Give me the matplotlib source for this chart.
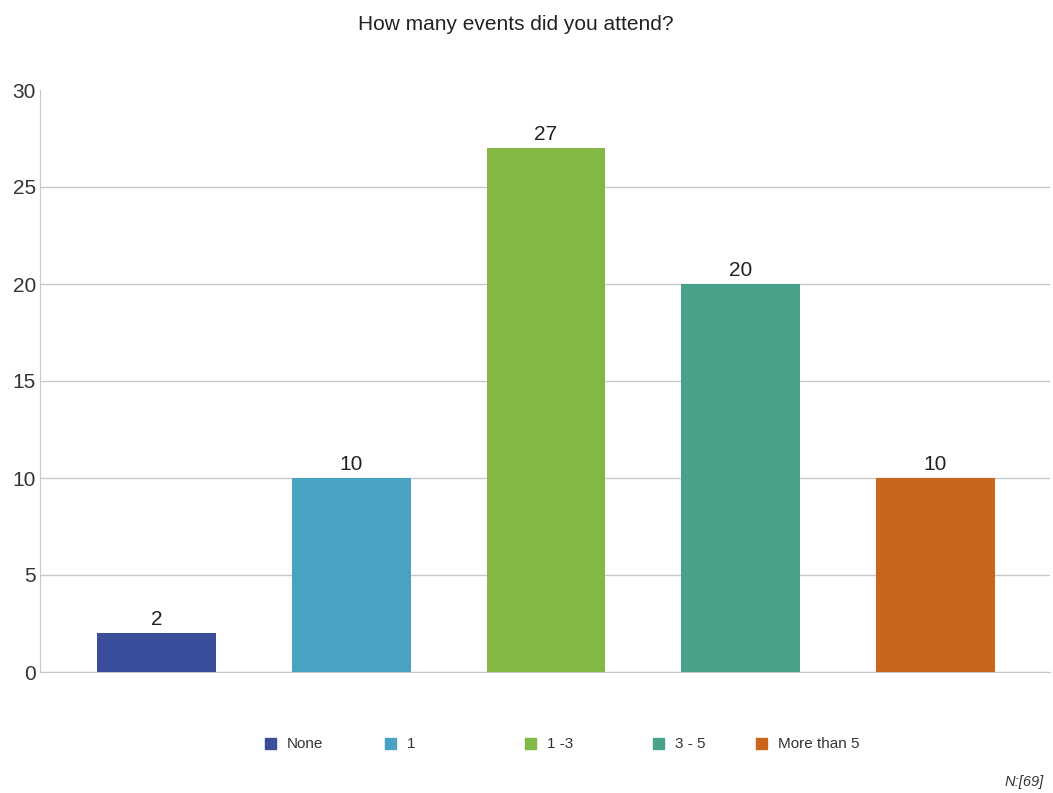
import matplotlib.pyplot as plt
from matplotlib.patches import Rectangle

plt.rcParams['font.family'] = ['Liberation Sans', 'DejaVu Sans']

# data
categories = ['None', '1', '1 -3', '3 - 5', 'More than 5']
counts = [2, 10, 27, 20, 10]
colors = ['#3a4e9c', '#4aa2c2', '#84b844', '#48a28a', '#c9661c']
yticks = [0, 5, 10, 15, 20, 25, 30]

fig = plt.figure(figsize=(10.53, 7.93), dpi=100)
ax = fig.add_axes([40 / 1053, 121 / 793, 1010 / 1053, 582 / 793])

x = range(len(categories))
bars = ax.bar(x, counts, width=0.61, color=colors, zorder=3)

for b, v in zip(bars, counts):
    ax.annotate(str(v), (b.get_x() + b.get_width() / 2, v),
                xytext=(0, 3), textcoords='offset points',
                ha='center', va='bottom', fontsize=15, color='#222222')

ax.set_xlim(-0.6, 4.59)
ax.set_ylim(0, 30)
ax.set_yticks(yticks)
ax.set_xticks([])
ax.tick_params(axis='y', length=0, labelsize=15, labelcolor='#333333', pad=3)
ax.yaxis.grid(True, color='#c8c8c8', linewidth=1, zorder=0)
for s in ['top', 'right']:
    ax.spines[s].set_visible(False)
ax.spines['left'].set_color('#c8c8c8')
ax.spines['bottom'].set_color('#c8c8c8')
# no gridline at the top value
ax.get_ygridlines()[-1].set_visible(False)

fig.text(516 / 1053, 1 - 24 / 793, 'How many events did you attend?',
         ha='center', va='center', fontsize=15, color='#222222')

# legend
leg_x = [265, 385, 525, 653, 756]
leg_y = 1 - 744 / 793
for lx, lab, c in zip(leg_x, categories, colors):
    fig.patches.append(Rectangle((lx / 1053, leg_y - 5 / 793), 11 / 1053, 11 / 793,
                                 transform=fig.transFigure, color=c))
    fig.text((lx + 22) / 1053, leg_y, lab, ha='left', va='center',
             fontsize=11, color='#333333')

fig.text(1024 / 1053, 1 - 782 / 793, 'N:[69]', ha='center', va='center',
         fontsize=10.5, style='italic', color='#333333')

fig.savefig('out.png', dpi=100)
